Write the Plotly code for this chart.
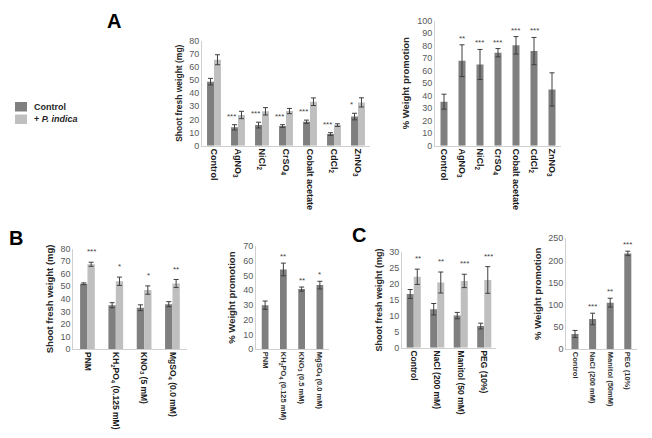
import plotly.graph_objects as go

# ---------------- DATA ----------------
# Panel A (heavy metals)
A_cats = ["Control", "AgNO3", "NiCl2", "CrSO4", "Cobalt acetate", "CdCl2", "ZnNO3"]
A_ticks = ["Control", "AgNO<sub>3</sub>", "NiCl<sub>2</sub>", "CrSO<sub>4</sub>",
           "Cobalt acetate", "CdCl<sub>2</sub>", "ZnNO<sub>3</sub>"]
A_ctrl = [48.8, 14.0, 15.7, 15.0, 18.3, 8.9, 22.2]
A_ctrl_err = [2.5, 2.0, 2.2, 1.0, 1.2, 1.0, 2.5]
A_pind = [65.5, 23.4, 26.2, 26.4, 33.5, 15.7, 33.0]
A_pind_err = [3.8, 2.8, 2.8, 2.0, 2.9, 1.0, 3.5]
A_sig = ["", "***", "***", "***", "***", "***", "*"]
A_prom = [35.2, 68.0, 65.0, 74.4, 80.3, 75.7, 45.0]
A_prom_err = [6.0, 12.7, 12.0, 3.3, 7.0, 10.9, 13.3]
A_prom_sig = ["", "**", "***", "***", "***", "***", ""]

# Panel B (nutrients)
B_cats = ["PNM", "KH2PO4", "KNO3", "MgSO4"]
B_ticks = ["PNM", "KH<sub>2</sub>PO<sub>4</sub> (0.125 mM)", "KNO<sub>3</sub> (5 mM)",
           "MgSO<sub>4</sub> (0.0 mM)"]
B_ticks2 = ["PNM", "KH<sub>2</sub>PO<sub>4</sub> (0.125 mM)", "KNO<sub>3</sub> (0.5 mM)",
            "MgSO<sub>4</sub> (0.0 mM)"]
B_ctrl = [52.0, 35.0, 33.0, 35.8]
B_ctrl_err = [0.7, 2.0, 2.3, 2.0]
B_pind = [67.5, 54.0, 47.0, 52.2]
B_pind_err = [1.6, 3.3, 3.3, 3.2]
B_sig = ["***", "*", "*", "**"]
B_prom = [29.9, 54.1, 40.8, 43.5]
B_prom_err = [2.8, 4.3, 1.4, 2.6]
B_prom_sig = ["", "**", "**", "*"]

# Panel C (osmotic stress)
C_cats = ["Control", "NaCl", "Manitol", "PEG"]
C_ticks = ["Control", "NaCl (200 mM)", "Manitol (50 mM)", "PEG (10%)"]
C_ticks2 = ["Control", "NaCl (200 mM)", "Manitol (50mM)", "PEG (10%)"]
C_ctrl = [16.9, 12.1, 10.1, 6.8]
C_ctrl_err = [1.4, 1.8, 1.0, 0.9]
C_pind = [22.3, 20.5, 21.0, 21.3]
C_pind_err = [2.4, 3.3, 2.1, 4.2]
C_sig = ["**", "**", "***", "***"]
C_prom = [34.5, 68.3, 105.0, 216.0]
C_prom_err = [8.0, 13.0, 10.0, 5.0]
C_prom_sig = ["", "***", "**", "***"]

SERIES_NAMES = ["Control", "+ <i>P. indica</i>"]

# ---------------- STYLE ----------------
PAGE_W, PAGE_H = 652, 438
OFF = 8                      # default page margin of the browser body
W, H = PAGE_W - OFF, PAGE_H - OFF
DARK = "#7f7f7f"
LIGHT = "#bfbfbf"
ERR = "#3f3f3f"
AXIS = "#d0d0d0"
FONT = "Liberation Sans, Arial, sans-serif"


def fx(px):
    return (px - OFF) / W


def fy(py):
    return 1 - (py - OFF) / H


def dom_x(a, b):
    return [fx(a), fx(b)]


def dom_y(top, bottom):
    return [fy(bottom), fy(top)]


fig = go.Figure()
layout = {}
annotations = []
shapes = []

panels = [
    dict(n=1, xp=(202, 370), yp=(40.7, 145.7), rng=[0, 80], dt=10,
         title="Shoot fresh weight (mg)", ts=8.5, cats=A_cats, ticks=A_ticks, tks=9,
         kind="pair", d=(A_ctrl, A_ctrl_err, A_pind, A_pind_err, A_sig), w=0.29,
         sigmode="left", tc="#1a1a1a"),
    dict(n=2, xp=(435, 561), yp=(20.7, 145.7), rng=[0, 100], dt=10,
         title="% Weight promotion", ts=9.5, cats=A_cats, ticks=A_ticks, tks=9,
         kind="single", d=(A_prom, A_prom_err, A_prom_sig), w=0.39, tc="#1a1a1a"),
    dict(n=3, xp=(73.3, 186.6), yp=(248.5, 349.3), rng=[0, 80], dt=10,
         title="Shoot fresh weight (mg)", ts=9.5, cats=B_cats, ticks=B_ticks, tks=8.5,
         kind="pair", d=(B_ctrl, B_ctrl_err, B_pind, B_pind_err, B_sig), w=0.26,
         sigmode="right", tc="#1a1a1a"),
    dict(n=4, xp=(256, 329), yp=(246, 349.3), rng=[0, 70], dt=10,
         title="% Weight promotion", ts=9.5, cats=B_cats, ticks=B_ticks2, tks=7.5,
         kind="single", d=(B_prom, B_prom_err, B_prom_sig), w=0.37, tc="#333333"),
    dict(n=5, xp=(402, 496), yp=(252.3, 347.7), rng=[0, 30], dt=5,
         title="Shoot fresh weight (mg)", ts=9, cats=C_cats, ticks=C_ticks, tks=8.5,
         kind="pair", d=(C_ctrl, C_ctrl_err, C_pind, C_pind_err, C_sig), w=0.3,
         sigmode="right", tc="#1a1a1a"),
    dict(n=6, xp=(566.2, 636.6), yp=(238.3, 349.3), rng=[0, 250], dt=50,
         title="% Weight promotion", ts=9.5, cats=C_cats, ticks=C_ticks2, tks=7.5,
         kind="single", d=(C_prom, C_prom_err, C_prom_sig), w=0.4, tc="#333333"),
]

for p in panels:
    n = p["n"]
    xa = "x" if n == 1 else f"x{n}"
    ya = "y" if n == 1 else f"y{n}"
    xkey = "xaxis" if n == 1 else f"xaxis{n}"
    ykey = "yaxis" if n == 1 else f"yaxis{n}"
    w = p["w"]
    if p["kind"] == "pair":
        c, ce, pi, pe, sig = p["d"]
        fig.add_trace(go.Bar(
            x=p["cats"], y=c, xaxis=xa, yaxis=ya, name=SERIES_NAMES[0],
            marker=dict(color=DARK, line=dict(width=0)), width=w, offset=-w,
            error_y=dict(type="data", array=ce, color=ERR, thickness=1, width=2.5),
            showlegend=False))
        fig.add_trace(go.Bar(
            x=p["cats"], y=pi, xaxis=xa, yaxis=ya, name=SERIES_NAMES[1],
            marker=dict(color=LIGHT, line=dict(width=0)), width=w, offset=0,
            error_y=dict(type="data", array=pe, color=ERR, thickness=1, width=2.5),
            showlegend=False))
        for cat, v1, e1, v2, e2, s in zip(p["cats"], c, ce, pi, pe, sig):
            if not s:
                continue
            if p["sigmode"] == "left":
                annotations.append(dict(x=cat, y=v1 + e1, xref=xa, yref=ya, text=s,
                                        showarrow=False, xshift=-7, yshift=2,
                                        yanchor="bottom",
                                        font=dict(size=8, color=ERR, family=FONT)))
            else:
                annotations.append(dict(x=cat, y=v2 + e2, xref=xa, yref=ya, text=s,
                                        showarrow=False, xshift=4, yshift=4,
                                        yanchor="bottom",
                                        font=dict(size=8, color=ERR, family=FONT)))
    else:
        v, e, sig = p["d"]
        fig.add_trace(go.Bar(
            x=p["cats"], y=v, xaxis=xa, yaxis=ya, name="% Weight promotion",
            marker=dict(color=DARK, line=dict(width=0)), width=w,
            error_y=dict(type="data", array=e, color=ERR, thickness=1, width=2.5),
            showlegend=False))
        for cat, vv, ee, s in zip(p["cats"], v, e, sig):
            if not s:
                continue
            annotations.append(dict(x=cat, y=vv + ee, xref=xa, yref=ya, text=s,
                                    showarrow=False, yshift=0, yanchor="bottom",
                                    font=dict(size=8, color=ERR, family=FONT)))

    layout[xkey] = dict(
        domain=dom_x(*p["xp"]), anchor=ya, type="category",
        categoryorder="array", categoryarray=p["cats"],
        tickmode="array", tickvals=p["cats"], ticktext=p["ticks"],
        tickangle=90, ticks="", showline=True, linecolor=AXIS, linewidth=1,
        showgrid=False, zeroline=False, range=[-0.5, len(p["cats"]) - 0.5],
        automargin=False,
        tickfont=dict(size=p["tks"], color=p["tc"], family=FONT, weight="bold"),
    )
    layout[ykey] = dict(
        domain=dom_y(*p["yp"]), anchor=xa, range=p["rng"], dtick=p["dt"],
        showline=True, linecolor=AXIS, linewidth=1, ticks="", showgrid=False,
        zeroline=False, automargin=False,
        tickfont=dict(size=9, color="#595959", family=FONT),
        title=dict(text=p["title"], standoff=5,
                   font=dict(size=p["ts"], color="#262626", family=FONT, weight="bold")),
    )

# Legend (drawn as swatches + labels)
for name, color, top in [(SERIES_NAMES[0], DARK, 102), (SERIES_NAMES[1], LIGHT, 114.5)]:
    shapes.append(dict(type="rect", xref="paper", yref="paper",
                       x0=fx(15), x1=fx(27), y0=fy(top + 9.5), y1=fy(top),
                       fillcolor=color, line=dict(width=0)))
    annotations.append(dict(x=fx(32), y=fy(top + 4.75), xref="paper", yref="paper",
                            text=name, showarrow=False, xanchor="left", yanchor="middle",
                            font=dict(size=9, color="#262626", family=FONT, weight="bold")))

# Panel letters
for txt, x, y in [("A", 114, 21), ("B", 16, 238), ("C", 359, 235)]:
    annotations.append(dict(x=fx(x), y=fy(y), xref="paper", yref="paper", text=txt,
                            showarrow=False, xanchor="center", yanchor="middle",
                            font=dict(size=20, color="black", family=FONT, weight="bold")))

# Outer frame (right edge of the figure border)
shapes.append(dict(type="line", xref="paper", yref="paper",
                   x0=fx(649), x1=fx(649), y0=0, y1=1,
                   line=dict(color="#c4c4c4", width=2)))

fig.update_layout(
    width=W, height=H, autosize=False,
    margin=dict(l=0, r=0, t=0, b=0, autoexpand=False),
    paper_bgcolor="white", plot_bgcolor="white",
    barmode="group",
    font=dict(family=FONT),
    showlegend=False,
    annotations=annotations,
    shapes=shapes,
    **layout,
)

fig.write_html("out.html")
